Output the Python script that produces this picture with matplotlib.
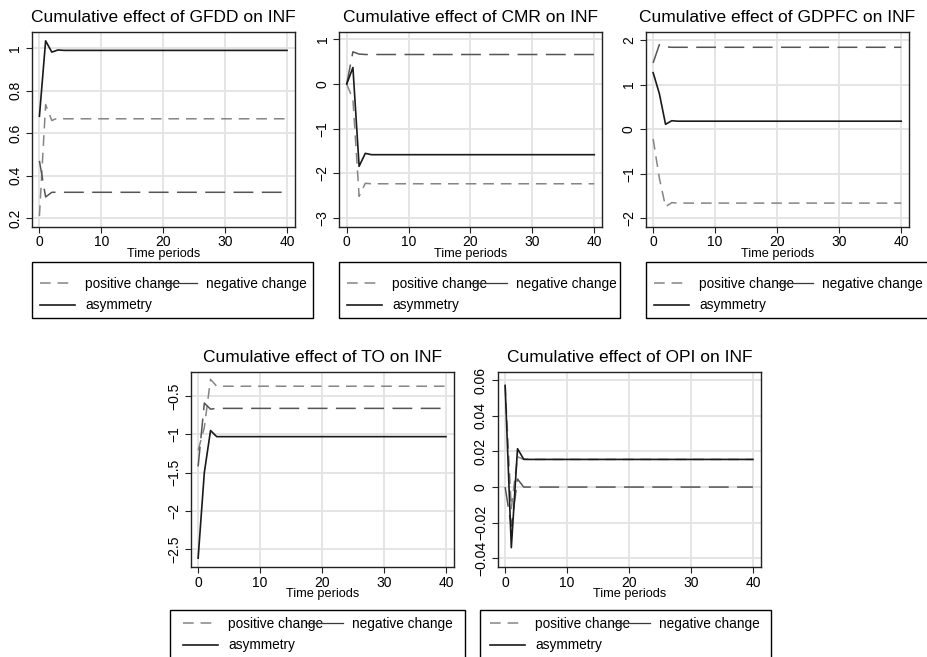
import matplotlib
matplotlib.use('Agg')
import matplotlib.pyplot as plt
from matplotlib.lines import Line2D
from matplotlib.patches import Rectangle
from matplotlib.ticker import FuncFormatter

plt.rcParams['font.family'] = ['Liberation Sans', 'DejaVu Sans']

# time periods where the multipliers change; flat after period 4
periods = [0, 1, 2, 3, 4, 40]

gfdd_pos = [0.21, 0.735, 0.66, 0.672, 0.668, 0.668]
gfdd_neg = [0.47, 0.30, 0.322, 0.322, 0.322, 0.322]
gfdd_asym = [0.68, 1.035, 0.982, 0.992, 0.99, 0.99]

cmr_pos = [0.0, -0.34, -2.51, -2.22, -2.23, -2.23]
cmr_neg = [0.0, 0.72, 0.67, 0.66, 0.66, 0.66]
cmr_asym = [0.0, 0.37, -1.84, -1.55, -1.58, -1.58]

gdpfc_pos = [-0.22, -1.1, -1.74, -1.65, -1.66, -1.66]
gdpfc_neg = [1.49, 1.9, 1.85, 1.84, 1.84, 1.84]
gdpfc_asym = [1.27, 0.8, 0.11, 0.19, 0.18, 0.18]

to_pos = [-1.21, -0.91, -0.28, -0.37, -0.37, -0.37]
to_neg = [-1.42, -0.59, -0.67, -0.66, -0.66, -0.66]
to_asym = [-2.62, -1.5, -0.95, -1.03, -1.03, -1.03]

opi_pos = [0.057, -0.012, 0.017, 0.0155, 0.0155, 0.0155]
opi_neg = [0.0, -0.022, 0.0045, 0.0, 0.0, 0.0]
opi_asym = [0.057, -0.034, 0.0215, 0.0156, 0.0155, 0.0155]

variables = ['GFDD', 'CMR', 'GDPFC', 'TO', 'OPI']
xticks = [0, 10, 20, 30, 40]
gfdd_yticks = [0.2, 0.4, 0.6, 0.8, 1]
cmr_yticks = [-3, -2, -1, 0, 1]
gdpfc_yticks = [-2, -1, 0, 1, 2]
to_yticks = [-2.5, -2, -1.5, -1, -0.5]
opi_yticks = [-0.04, -0.02, 0, 0.02, 0.04, 0.06]
legend_labels = ['positive change', 'asymmetry', 'negative change']

W, H = 927, 657


def box(x0, y0, x1, y1):
    return [x0 / W, 1 - y1 / H, (x1 - x0) / W, (y1 - y0) / H]


# (data..., y ticks, y limits, axes px box, legend frame px box,
#  legend content: left, right, top of first row)
panels = [
    (gfdd_pos, gfdd_neg, gfdd_asym, gfdd_yticks, (0.16, 1.078),
     (32, 31.7, 295, 226.7), (32, 261.7, 313, 318.3), (40, 307, 277)),
    (cmr_pos, cmr_neg, cmr_asym, cmr_yticks, (-3.19, 1.17),
     (339.3, 31.7, 602.3, 226.7), (339.3, 261.7, 620, 318.3), (347, 617, 277)),
    (gdpfc_pos, gdpfc_neg, gdpfc_asym, gdpfc_yticks, (-2.19, 2.19),
     (645.7, 31.7, 909.3, 226.7), (645.7, 261.7, 930, 318.3), (654, 923, 277)),
    (to_pos, to_neg, to_asym, to_yticks, (-2.74, -0.18),
     (190.7, 371.7, 454, 567.3), (170, 610, 465, 667), (183, 453, 617)),
    (opi_pos, opi_neg, opi_asym, opi_yticks, (-0.045, 0.0647),
     (497.7, 371.7, 761, 567.3), (480, 610, 771, 667), (490, 760, 617)),
]

fmt = FuncFormatter(lambda v, p: f'{v:g}'.replace('-', '\u2212'))

pos_style = dict(color='#858585', lw=1.1, dashes=(7, 4.5))
neg_style = dict(color='#555555', lw=1.1, dashes=(13, 5.5))
asym_style = dict(color='#1a1a1a', lw=1.2)

fig = plt.figure(figsize=(W / 100, H / 100), dpi=100)

for var, (pos, neg, asym, yt, ylim, rect, frame, content) in zip(variables, panels):
    ax = fig.add_axes(box(*rect))
    ax.plot(periods, pos, **pos_style)
    ax.plot(periods, neg, **neg_style)
    ax.plot(periods, asym, **asym_style)

    ax.set_xlim(-1.2, 41.3)
    ax.set_ylim(*ylim)
    ax.set_xticks(xticks)
    ax.set_yticks(yt)
    ax.yaxis.set_major_formatter(fmt)
    ax.grid(True, color='#e3e3e3', lw=1.3)
    ax.set_axisbelow(True)
    for s in ax.spines.values():
        s.set_color('#222222')
        s.set_linewidth(1.0)
    ax.tick_params(axis='both', labelsize=10, length=4, width=0.8, color='#222222')
    ax.tick_params(axis='x', pad=2)
    ax.tick_params(axis='y', pad=3)
    for lab in ax.get_yticklabels():
        lab.set_rotation(90)
        lab.set_va('center')
    ax.set_xlabel('Time periods', fontsize=9.2, labelpad=-1)
    ax.set_title(f'Cumulative effect of {var} on INF', fontsize=12.5, pad=7)

    # legend frame drawn separately so the rows can sit like Stata's
    fx0, fy0, fx1, fy1 = frame
    fig.patches.append(Rectangle((fx0 / W, 1 - fy1 / H), (fx1 - fx0) / W,
                                 (fy1 - fy0) / H, transform=fig.transFigure,
                                 fill=False, edgecolor='black', lw=1.0))

    handles = [
        Line2D([], [], **pos_style),
        Line2D([], [], **asym_style),
        Line2D([], [], color='#3a3a3a', lw=0.9),
    ]
    cx0, cx1, cy = content
    fig.legend(handles, legend_labels, ncol=2, loc='upper left',
               bbox_to_anchor=(cx0 / W, 1 - cy / H, (cx1 - cx0) / W, 0),
               bbox_transform=fig.transFigure, mode='expand',
               fontsize=9.8, frameon=False, handlelength=2.6,
               handletextpad=0.7, borderpad=0, labelspacing=0.55,
               columnspacing=0.0, borderaxespad=0)

fig.savefig('out.png', dpi=100)
